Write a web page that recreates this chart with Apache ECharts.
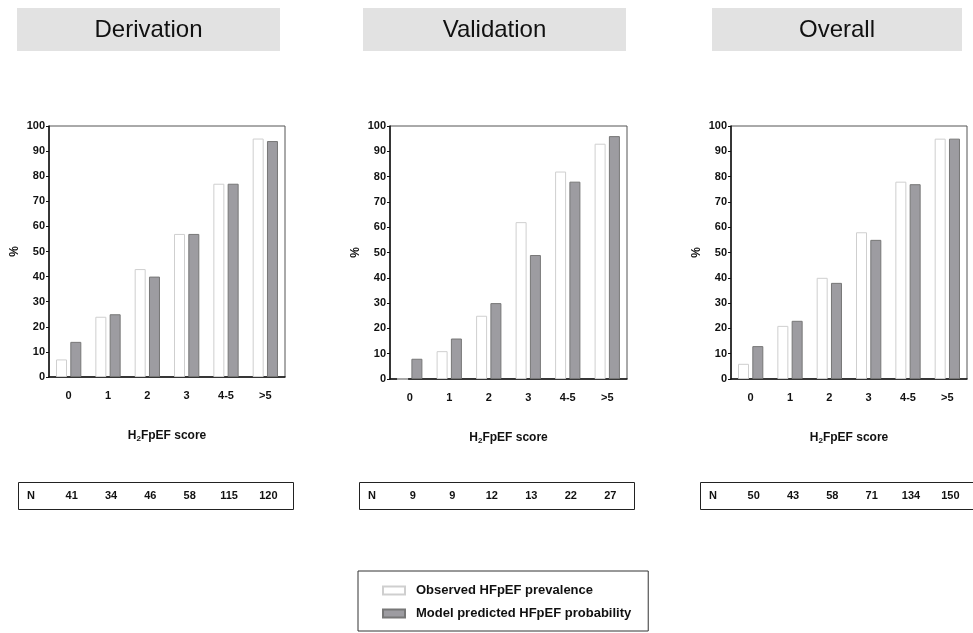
<!DOCTYPE html>
<html><head><meta charset="utf-8">
<script src="https://cdn.jsdelivr.net/npm/echarts@6/dist/echarts.min.js"></script>
<style>html,body{margin:0;padding:0;background:#fff}#c{width:973px;height:633px}</style>
</head><body><div id="c"></div>
<script>
const categories = ['0','1','2','3','4-5','>5'];
const panelTitles = ['Derivation','Validation','Overall'];
const observedDerivation = [7,24,43,57,77,95];
const predictedDerivation = [14,25,40,57,77,94];
const observedValidation = [0,11,25,62,82,93];
const predictedValidation = [8,16,30,49,78,96];
const observedOverall = [6,21,40,58,78,95];
const predictedOverall = [13,23,38,55,77,95];
const nDerivation = [41,34,46,58,115,120];
const nValidation = [9,9,12,13,22,27];
const nOverall = [50,43,58,71,134,150];
const yTicks = [0,10,20,30,40,50,60,70,80,90,100];
const seriesNames = ['Observed HFpEF prevalence','Model predicted HFpEF probability'];

const observed = [observedDerivation, observedValidation, observedOverall];
const predicted = [predictedDerivation, predictedValidation, predictedOverall];
const nCounts = [nDerivation, nValidation, nOverall];

const FONT = '"Liberation Sans", Arial, sans-serif';
const grids = [
  {left:49, top:126, width:236, height:251},
  {left:390, top:126, width:237, height:253},
  {left:731, top:126, width:236, height:253}
];
const headers = [{x:17,w:263},{x:363,w:263},{x:712,w:250}];
const nBoxes = [{x:18,w:275},{x:359,w:275},{x:700,w:280}];

const option = {
  animation:false,
  backgroundColor:'#fff',
  grid: grids.map(g=>Object.assign({show:true, borderColor:'#555', borderWidth:1, backgroundColor:'transparent'}, g)),
  legend: {
    orient:'vertical', left:358, top:571, width:289,
    padding:[13,17,11,24], itemGap:10,
    borderColor:'#333', borderWidth:1,
    itemWidth:22, itemHeight:8, icon:'rect',
    data: seriesNames,
    textStyle:{fontFamily:FONT, fontWeight:'bold', fontSize:13, color:'#111', padding:[0,0,0,6]}
  },
  xAxis: grids.map((g,i)=>({
    type:'category', gridIndex:i, data:categories,
    axisLine:{lineStyle:{color:'#111', width:1.5}},
    axisTick:{alignWithLabel:true, length:4, lineStyle:{color:'#111'}},
    axisLabel:{fontFamily:FONT, fontWeight:'bold', fontSize:11, color:'#111', margin:13},
    name:'{a|H}{s|2}{a|FpEF score}', nameLocation:'middle', nameGap:52,
    nameTextStyle:{rich:{
      a:{fontFamily:FONT, fontWeight:'bold', fontSize:12, color:'#111'},
      s:{fontFamily:FONT, fontWeight:'bold', fontSize:8, color:'#111', padding:[6,0,0,0]}
    }}
  })),
  yAxis: grids.map((g,i)=>({
    type:'value', gridIndex:i, min:yTicks[0], max:yTicks[yTicks.length-1], interval:10,
    splitLine:{show:false},
    axisLine:{show:true, lineStyle:{color:'#111', width:1.5}},
    axisTick:{show:true, length:3, lineStyle:{color:'#111'}},
    axisLabel:{fontFamily:FONT, fontWeight:'bold', fontSize:11, color:'#111', margin:4},
    name:'%', nameLocation:'middle', nameGap:28, nameRotate:90,
    nameTextStyle:{fontFamily:FONT, fontWeight:'bold', fontSize:12, color:'#111'}
  })),
  series: [],
  graphic: []
};

for (let i=0;i<3;i++){
  option.series.push({
    name:seriesNames[0], type:'bar', xAxisIndex:i, yAxisIndex:i, data:observed[i],
    barWidth:11, barGap:'30%',
    itemStyle:{color:'#ffffff', borderColor:'#cfcfcf', borderWidth:1}
  });
  option.series.push({
    name:seriesNames[1], type:'bar', xAxisIndex:i, yAxisIndex:i, data:predicted[i],
    barWidth:11, barGap:'30%',
    itemStyle:{color:'#9d9ca1', borderColor:'#777', borderWidth:1}
  });
  option.graphic.push({
    type:'rect', shape:{x:headers[i].x, y:8, width:headers[i].w, height:43},
    style:{fill:'#e2e2e2'}, z:0
  });
  option.graphic.push({
    type:'text', x:headers[i].x+headers[i].w/2, y:30,
    style:{text:panelTitles[i], font:'24px '+FONT, fill:'#111', textAlign:'center', textVerticalAlign:'middle'}
  });
  option.graphic.push({
    type:'rect', shape:{x:nBoxes[i].x+0.5, y:482.5, width:nBoxes[i].w, height:27},
    style:{fill:'#fff', stroke:'#222', lineWidth:1}
  });
}

const chart = echarts.init(document.getElementById('c'), null, {renderer:'canvas'});
chart.setOption(option);

const extra = [];
for (let i=0;i<3;i++){
  extra.push({
    type:'text', x:nBoxes[i].x+13, y:496,
    style:{text:'N', font:'bold 11px '+FONT, fill:'#111', textAlign:'center', textVerticalAlign:'middle'}
  });
  categories.forEach((c,j)=>{
    const px = chart.convertToPixel({xAxisIndex:i}, c);
    extra.push({
      type:'text', x:px+3, y:496,
      style:{text:String(nCounts[i][j]), font:'bold 11px "Liberation Sans Narrow", '+FONT, fill:'#111', textAlign:'center', textVerticalAlign:'middle'}
    });
  });
}
chart.setOption({graphic: option.graphic.concat(extra)});
</script></body></html>
